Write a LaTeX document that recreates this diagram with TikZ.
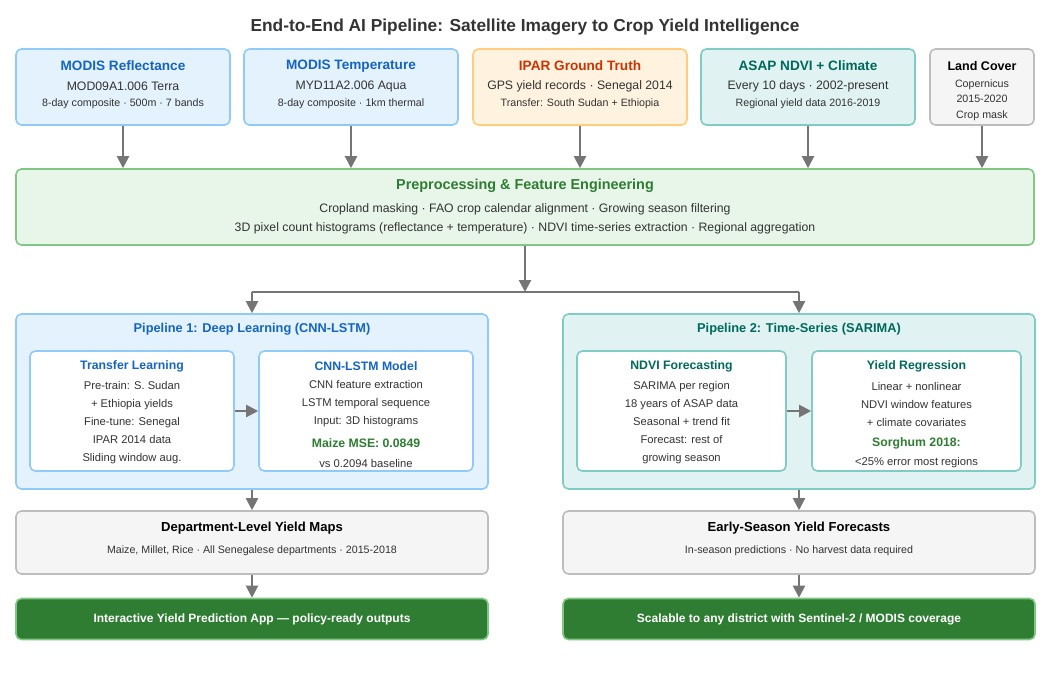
\documentclass[tikz,border=0pt]{standalone}
\usepackage{fontspec}
\setmainfont{Liberation Sans}
\usetikzlibrary{arrows.meta}
\definecolor{blueF}{HTML}{E3F2FD}\definecolor{blueD}{HTML}{90CAF9}\definecolor{blueT}{HTML}{1565C0}
\definecolor{orF}{HTML}{FFF3E0}\definecolor{orD}{HTML}{FFCC80}\definecolor{orT}{HTML}{CC3300}
\definecolor{tlF}{HTML}{E0F2F1}\definecolor{tlD}{HTML}{80CBC4}\definecolor{tlT}{HTML}{00695C}
\definecolor{grF}{HTML}{F5F5F5}\definecolor{grD}{HTML}{BDBDBD}
\definecolor{gnF}{HTML}{E8F5E9}\definecolor{gnD}{HTML}{81C784}\definecolor{gnT}{HTML}{2E7D32}
\definecolor{arr}{HTML}{757575}\definecolor{txt}{HTML}{333333}
\tikzset{every picture/.style={line width=0.75pt}}
\begin{document}
\begin{tikzpicture}[x=0.75pt,y=0.75pt,yscale=-1,xscale=1,
  box/.style n args={4}{draw=#2,fill=#1,rounded corners=4pt,line width=1.2pt,
    minimum width=#3*0.75pt,minimum height=#4*0.75pt,inner sep=0pt},
  hd/.style={font=\bfseries\fontsize{10.2}{12}\selectfont},
  bd/.style={font=\fontsize{9.2}{13}\selectfont,text=txt},
  sm/.style={font=\fontsize{8}{11}\selectfont,text=txt},
  sb/.style={font=\fontsize{8.4}{13.5}\selectfont,text=txt,align=center},
  flow/.style={draw=arr,line width=1.6pt,-{Triangle[length=9pt,width=9pt]}}]
\useasboundingbox (0,0) rectangle (1052,678);
% title
\node[font=\bfseries\fontsize{13}{15}\selectfont,text=txt] (title) at (525,27) {End-to-End AI Pipeline: Satellite Imagery to Crop Yield Intelligence};

% data sources
\node[box={blueF}{blueD}{214}{76}] (m1) at (123,87) {};
\node[hd,text=blueT] at (123,66) {MODIS Reflectance};
\node[bd] at (123,86) {MOD09A1.006 Terra};
\node[sm] at (123,104) {8-day composite · 500m · 7 bands};
\node[box={blueF}{blueD}{214}{76}] (m2) at (351,87) {};
\node[hd,text=blueT] at (351,66) {MODIS Temperature};
\node[bd] at (351,86) {MYD11A2.006 Aqua};
\node[sm] at (351,104) {8-day composite · 1km thermal};
\node[box={orF}{orD}{214}{76}] (m3) at (580,87) {};
\node[hd,text=orT] at (580,66) {IPAR Ground Truth};
\node[bd] at (580,86) {GPS yield records · Senegal 2014};
\node[sm] at (580,104) {Transfer: South Sudan + Ethiopia};
\node[box={tlF}{tlD}{214}{76}] (m4) at (808,87) {};
\node[hd,text=tlT] at (808,66) {ASAP NDVI + Climate};
\node[bd] at (808,86) {Every 10 days · 2002-present};
\node[sm] at (808,104) {Regional yield data 2016-2019};
\node[box={grF}{grD}{104}{76}] (m5) at (982,87) {};
\node[font=\bfseries\fontsize{9.4}{12}\selectfont,text=black] at (982,66) {Land Cover};
\node[sm,align=center,font=\fontsize{8}{11.5}\selectfont] at (982,100) {Copernicus\\2015-2020\\Crop mask};

% preprocessing
\node[box={gnF}{gnD}{1018}{76}] (prep) at (525,207) {};
\node[hd,text=gnT,font=\bfseries\fontsize{10.8}{13}\selectfont] at (525,186) {Preprocessing \& Feature Engineering};
\node[bd] at (525,209) {Cropland masking · FAO crop calendar alignment · Growing season filtering};
\node[bd] at (525,228) {3D pixel count histograms (reflectance + temperature) · NDVI time-series extraction · Regional aggregation};
\foreach \m in {m1,m2,m3,m4,m5}
  \draw[flow] (\m.south) -- (\m.south |- prep.north);

% pipelines
\node[box={blueF}{blueD}{472}{175}] (p1) at (252,401.5) {};
\node[hd,text=blueT,font=\bfseries\fontsize{9.6}{12}\selectfont] at (252,329) {Pipeline 1: Deep Learning (CNN-LSTM)};
\node[box={tlF}{tlD}{472}{175}] (p2) at (799,401.5) {};
\node[hd,text=tlT,font=\bfseries\fontsize{9.6}{12}\selectfont] at (799,329) {Pipeline 2: Time-Series (SARIMA)};
\coordinate (split) at (525,292);
\draw[flow] (prep.south) -- (split);
\draw[draw=arr,line width=1.6pt] (p1.north |- split) -- (p2.north |- split);
\draw[flow] (p1.north |- split) -- (p1.north);
\draw[flow] (p2.north |- split) -- (p2.north);

% inner boxes
\node[box={white}{blueD}{204}{120}] (tl) at (132,411) {};
\node[hd,text=blueT,font=\bfseries\fontsize{9.2}{12}\selectfont] at (132,366) {Transfer Learning};
\node[sb] at (132,423) {Pre-train: S. Sudan\\+ Ethiopia yields\\Fine-tune: Senegal\\IPAR 2014 data\\Sliding window aug.};
\node[box={white}{blueD}{214}{120}] (cnn) at (366,411) {};
\node[hd,text=blueT,font=\bfseries\fontsize{9.2}{12}\selectfont] at (366,366) {CNN-LSTM Model};
\node[sb] at (366,404) {CNN feature extraction\\LSTM temporal sequence\\Input: 3D histograms};
\node[font=\bfseries\fontsize{9.2}{12}\selectfont,text=gnT] at (366,443) {Maize MSE: 0.0849};
\node[sb] at (366,463) {vs 0.2094 baseline};
\draw[flow] (tl.east) -- (cnn.west);

\node[box={white}{tlD}{209}{120}] (nf) at (681.5,411) {};
\node[hd,text=tlT,font=\bfseries\fontsize{9.2}{12}\selectfont] at (681.5,366) {NDVI Forecasting};
\node[sb] at (681.5,423) {SARIMA per region\\18 years of ASAP data\\Seasonal + trend fit\\Forecast: rest of\\growing season};
\node[box={white}{tlD}{209}{120}] (yr) at (916.5,411) {};
\node[hd,text=tlT,font=\bfseries\fontsize{9.2}{12}\selectfont] at (916.5,366) {Yield Regression};
\node[sb] at (916.5,404) {Linear + nonlinear\\NDVI window features\\+ climate covariates};
\node[font=\bfseries\fontsize{9.2}{12}\selectfont,text=gnT] at (916.5,443) {Sorghum 2018:};
\node[sb] at (916.5,463) {<25\% error most regions};
\draw[flow] (nf.east) -- (yr.west);

% outputs
\node[box={grF}{grD}{472}{63}] (o1) at (252,542.5) {};
\node[font=\bfseries\fontsize{9.8}{12}\selectfont,text=black] at (252,528) {Department-Level Yield Maps};
\node[sm] at (252,551) {Maize, Millet, Rice · All Senegalese departments · 2015-2018};
\node[box={grF}{grD}{472}{63}] (o2) at (799,542.5) {};
\node[font=\bfseries\fontsize{9.8}{12}\selectfont,text=black] at (799,528) {Early-Season Yield Forecasts};
\node[sm] at (799,551) {In-season predictions · No harvest data required};
\draw[flow] (p1.south) -- (o1.north);
\draw[flow] (p2.south) -- (o2.north);

\node[box={gnT}{gnD}{472}{41},text=white,font=\bfseries\fontsize{9}{12}\selectfont] (f1) at (252,619) {Interactive Yield Prediction App — policy-ready outputs};
\node[box={gnT}{gnD}{472}{41},text=white,font=\bfseries\fontsize{9}{12}\selectfont] (f2) at (799,619) {Scalable to any district with Sentinel-2 / MODIS coverage};
\draw[flow] (o1.south) -- (f1.north);
\draw[flow] (o2.south) -- (f2.north);
\end{tikzpicture}
\end{document}
